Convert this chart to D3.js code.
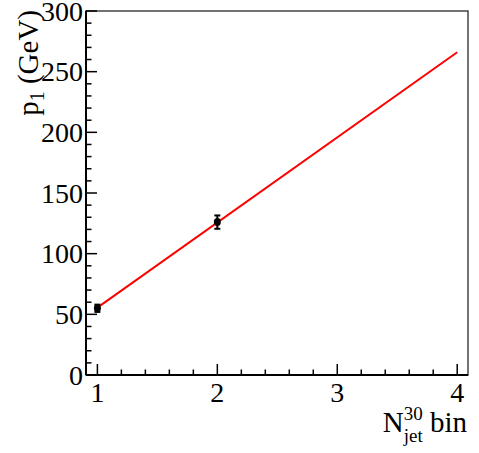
<!DOCTYPE html>
<html><head><meta charset="utf-8">
<script src="https://cdn.jsdelivr.net/npm/d3@7"></script>
<style>body{margin:0;background:#fff}svg{display:block}text{font-family:"Liberation Serif","Times New Roman",serif;fill:#000}</style>
</head><body>
<script>
const binX = [1, 2];
const pValues = [55, 126];
const pErrors = [3, 5.5];
const fitX = [1, 4];
const fitY = [55.5, 266];
const yTicks = [0, 50, 100, 150, 200, 250, 300];
const xTicks = [1, 2, 3, 4];

const W = 479, H = 453;
const L = 86, T = 11, R = 468, B = 375;
const svg = d3.select("body").append("svg").attr("width", W).attr("height", H);
const x = d3.scaleLinear().domain([0.905, 4.09]).range([L, R]);
const y = d3.scaleLinear().domain([0, 300]).range([B, T]);

// frame
svg.append("rect").attr("x", L).attr("y", T).attr("width", R - L).attr("height", B - T)
  .attr("fill", "none").attr("stroke", "#444").attr("stroke-width", 1.5);

// y axis ticks
const yMinor = d3.range(0, 301, 10);
svg.append("g").selectAll("line").data(yMinor).join("line")
  .attr("x1", L).attr("x2", d => L + (d % 50 === 0 ? 11 : 5.5))
  .attr("y1", d => y(d)).attr("y2", d => y(d)).attr("stroke", "#000").attr("stroke-width", 1.5);
svg.append("g").selectAll("text").data(yTicks).join("text")
  .attr("x", L - 3).attr("y", d => y(d) + 9.5).attr("text-anchor", "end")
  .attr("font-size", 28).text(d => d);

// x axis ticks
const xMinor = d3.range(1, 4.01, 0.2);
svg.append("g").selectAll("line").data(xMinor).join("line")
  .attr("x1", d => x(d)).attr("x2", d => x(d))
  .attr("y1", B).attr("y2", d => B - (Math.abs(d - Math.round(d)) < 1e-6 ? 11 : 5.5))
  .attr("stroke", "#000").attr("stroke-width", 1.5);
svg.append("g").selectAll("text").data(xTicks).join("text")
  .attr("x", d => x(d)).attr("y", B + 27).attr("text-anchor", "middle")
  .attr("font-size", 28).text(d => d);

// axis lines
svg.append("line").attr("x1", L).attr("x2", L).attr("y1", T).attr("y2", B).attr("stroke", "#000").attr("stroke-width", 2);
svg.append("line").attr("x1", L).attr("x2", R).attr("y1", B).attr("y2", B).attr("stroke", "#000").attr("stroke-width", 2);

// fit line
svg.append("line").attr("x1", x(fitX[0])).attr("y1", y(fitY[0])).attr("x2", x(fitX[1])).attr("y2", y(fitY[1]))
  .attr("stroke", "#ff0000").attr("stroke-width", 2);

// points with error bars
const pts = binX.map((b, i) => ({x: b, y: pValues[i], e: pErrors[i]}));
const g = svg.append("g");
pts.forEach(p => {
  g.append("line").attr("x1", x(p.x)).attr("x2", x(p.x)).attr("y1", y(p.y - p.e)).attr("y2", y(p.y + p.e)).attr("stroke", "#000").attr("stroke-width", 2);
  [p.y - p.e, p.y + p.e].forEach(v => g.append("line").attr("x1", x(p.x) - 3).attr("x2", x(p.x) + 3).attr("y1", y(v)).attr("y2", y(v)).attr("stroke", "#000").attr("stroke-width", 2));
  g.append("ellipse").attr("cx", x(p.x)).attr("cy", y(p.y)).attr("rx", 3.5).attr("ry", 4).attr("fill", "#000");
});

// y title
const yt = svg.append("text").attr("transform", `translate(38,${T - 1}) rotate(-90)`).attr("text-anchor", "end").attr("font-size", 29);
yt.append("tspan").text("p");
yt.append("tspan").attr("font-size", 20).attr("dy", 6).text("1");
yt.append("tspan").attr("dy", -6).text(" (GeV)");

// x title
const xt = svg.append("text").attr("x", 467).attr("y", 432).attr("text-anchor", "end").attr("font-size", 29);
xt.append("tspan").text("N");
xt.append("tspan").attr("font-size", 19).attr("dy", -12).text("30");
xt.append("tspan").attr("font-size", 19).attr("dx", -19).attr("dy", 22).text("jet");
xt.append("tspan").attr("dy", -10).text(" bin");
</script>
</body></html>
